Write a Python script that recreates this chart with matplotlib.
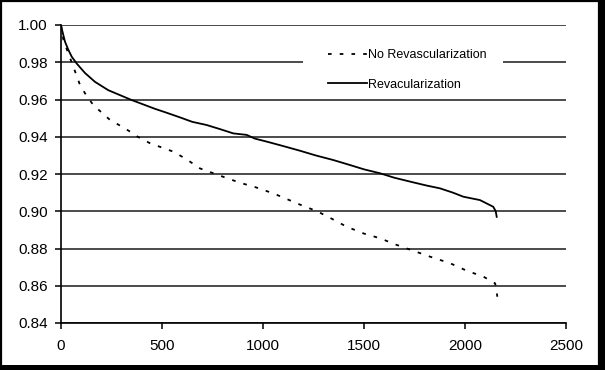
import matplotlib
matplotlib.use('Agg')
from matplotlib import pyplot as plt
from matplotlib.patches import Rectangle

plt.rcParams['font.family'] = ['Liberation Sans', 'DejaVu Sans']

# days of follow-up and survival
revasc_days = [0, 6, 20, 35, 53, 77, 119, 168, 234, 350, 465, 520, 589, 650,
               721, 790, 853, 919, 960, 1018, 1100, 1183, 1260, 1348, 1431,
               1500, 1579, 1650, 1744, 1810, 1876, 1940, 1992, 2074, 2140,
               2152, 2157]
revasc_surv = [1.000, 0.997, 0.991, 0.987, 0.983, 0.9794, 0.9742, 0.9695,
               0.9650, 0.9597, 0.955, 0.953, 0.9504, 0.948, 0.9463, 0.944,
               0.9418, 0.941, 0.939, 0.9374, 0.935, 0.9325, 0.930, 0.9275,
               0.9248, 0.9225, 0.9204, 0.918, 0.9155, 0.9138, 0.9123, 0.910,
               0.9078, 0.906, 0.9024, 0.900, 0.897]

norevasc_days = [0, 5, 12, 36, 61, 94, 119, 160, 243, 317, 380, 441, 556,
                 620, 688, 790, 886, 960, 1051, 1167, 1200, 1266, 1340, 1414,
                 1500, 1579, 1660, 1744, 1830, 1926, 2010, 2091, 2149, 2155,
                 2160]
norevasc_surv = [1.000, 0.996, 0.992, 0.9848, 0.9776, 0.9678, 0.9633, 0.957,
                 0.949, 0.9445, 0.940, 0.9365, 0.932, 0.928, 0.923,
                 0.919, 0.9153, 0.913, 0.9096, 0.9043, 0.9028, 0.9001, 0.896,
                 0.8917, 0.888, 0.8855, 0.882, 0.8788, 0.8755, 0.8721, 0.868,
                 0.8649, 0.8613, 0.858, 0.8541]

x_ticks = [0, 500, 1000, 1500, 2000, 2500]
y_ticks = [0.84, 0.86, 0.88, 0.90, 0.92, 0.94, 0.96, 0.98, 1.00]

fig = plt.figure(figsize=(6.05, 3.70), dpi=100)
ax = fig.add_axes([61 / 605, 1 - 323 / 370, 505 / 605, 298 / 370])

ax.plot(norevasc_days, norevasc_surv, color='black', lw=1.3,
        linestyle=(0, (2.0, 4.5)), label='No Revascularization', zorder=3)
ax.plot(revasc_days, revasc_surv, color='black', lw=1.3,
        label='Revacularization', zorder=3)

ax.set_xlim(0, 2500)
ax.set_ylim(0.84, 1.00)
ax.set_xticks(x_ticks)
ax.set_yticks(y_ticks)
ax.set_xticklabels([str(t) for t in x_ticks])
ax.set_yticklabels(['%.2f' % t for t in y_ticks])

ax.set_axisbelow(True)
ax.yaxis.grid(True, color='#1a1a1a', lw=1.1)
for s in ['top', 'right']:
    ax.spines[s].set_visible(False)
for s in ['left', 'bottom']:
    ax.spines[s].set_linewidth(1.2)
ax.tick_params(axis='both', direction='out', length=4.5, width=1.1,
               labelsize=11, pad=5)
ax.tick_params(axis='x', pad=7)

# white patch behind the legend, hiding the grid line there
fig.patches.append(Rectangle((303 / 605, 1 - 80 / 370), 200 / 605, 40 / 370,
                             transform=fig.transFigure, facecolor='white',
                             edgecolor='none', zorder=1))
ax.set_zorder(0)
ax.patch.set_visible(False)
leg = fig.legend(loc='center left', bbox_to_anchor=(322 / 605, 1 - 70 / 370),
                 frameon=False, fontsize=9, borderpad=0, handlelength=3.1,
                 handletextpad=0.05, labelspacing=1.4)

# frame round the whole picture, heavier on the right and bottom
fig.patches.append(Rectangle((0.002, 0.004), 0.988, 0.992,
                             transform=fig.transFigure, fill=False,
                             edgecolor='black', lw=1.6))
fig.patches.append(Rectangle((0.990, 0.0), 0.010, 1.0,
                             transform=fig.transFigure, facecolor='black'))
fig.patches.append(Rectangle((0.0, 0.0), 1.0, 0.014,
                             transform=fig.transFigure, facecolor='black'))

plt.savefig('out.png', dpi=100)
